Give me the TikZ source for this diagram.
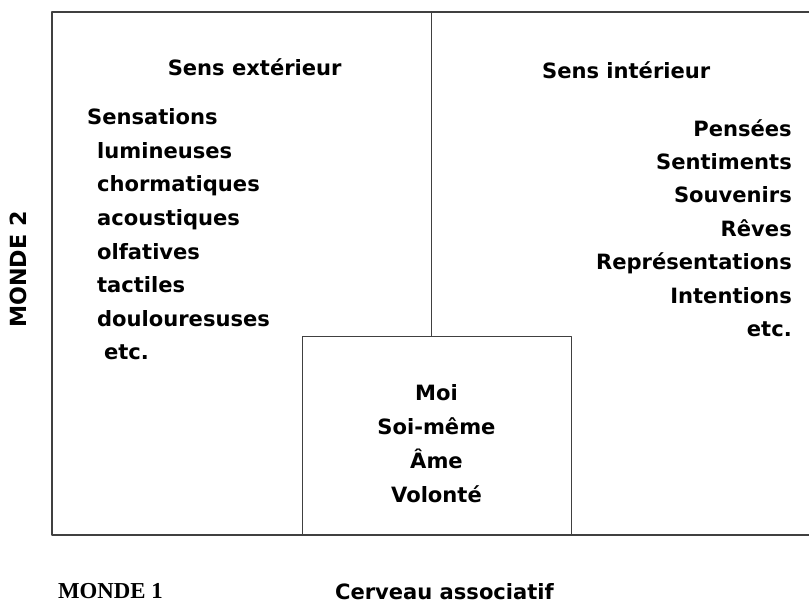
\documentclass[tikz,border=0pt]{standalone}
\usepackage{fontspec}
\setmainfont{DejaVu Sans}
\newfontfamily\serifmonde{Liberation Serif}
\begin{document}
\begin{tikzpicture}[x=0.03cm, y=-0.03cm, line join=round,
		font=\bfseries\fontsize{18}{21}\selectfont,
		mot/.style={inner sep=0pt},
		cadre/.style={line width=1.8pt, black!75}]
		\def\xg{52} \def\xd{810} \def\yh{12} \def\yb{536}
		\def\xm{432} \def\ym{337}
		\useasboundingbox (0,0) rectangle (811,611);
		%	\draw[color=gray!50,dashed] (0,0) grid[step=50] (810,611);
		\draw[cadre] (\xd,\yh)--(\xg,\yh)--(\xg,\yb)--(\xd,\yb);
		\draw[cadre, line width=1.2pt] (\xm,\yh)--(\xm,\ym);
		\draw[cadre, line width=1.2pt] (303,\yb) rectangle (572,\ym);
		\node[mot] (ext) at (255,67) {Sens extérieur};
		\node[mot] (int) at (627,70) {Sens intérieur};
		% liste de gauche
		\node[mot, anchor=base west] (g1) at (87,125) {Sensations};
		\foreach \t [count=\i] in {lumineuses,chormatiques,acoustiques,olfatives,tactiles,douloure­suses}
		\node[mot, anchor=base west] (g\i) at (97,{125+33.6*\i}) {\t};
		\node[mot, anchor=base west] (getc) at (104,360) {etc.};
		% liste de droite
		\foreach \t [count=\i] in {Pensées,Sentiments,Souvenirs,Rêves,Représentations,Intentions,etc.}
		\node[mot, anchor=base east] (d\i) at (793,{103+33.4*\i}) {\t};
		% moi
		\foreach \t [count=\i] in {Moi,Soi-même,Âme,Volonté}
		\node[mot, anchor=base] (m\i) at (437,{367+34*\i}) {\t};
		\node[mot, anchor=base] (cerveau) at (445,600) {Cerveau associatif};
		\node[mot, anchor=west, font=\serifmonde\bfseries\fontsize{19.5}{22}\selectfont] (monde1) at (58,592) {MONDE 1};
		\node[mot, rotate=90, font=\bfseries\fontsize{19}{22}\selectfont] (monde2) at (18,270) {MONDE 2};
		\end{tikzpicture}
\end{document}
